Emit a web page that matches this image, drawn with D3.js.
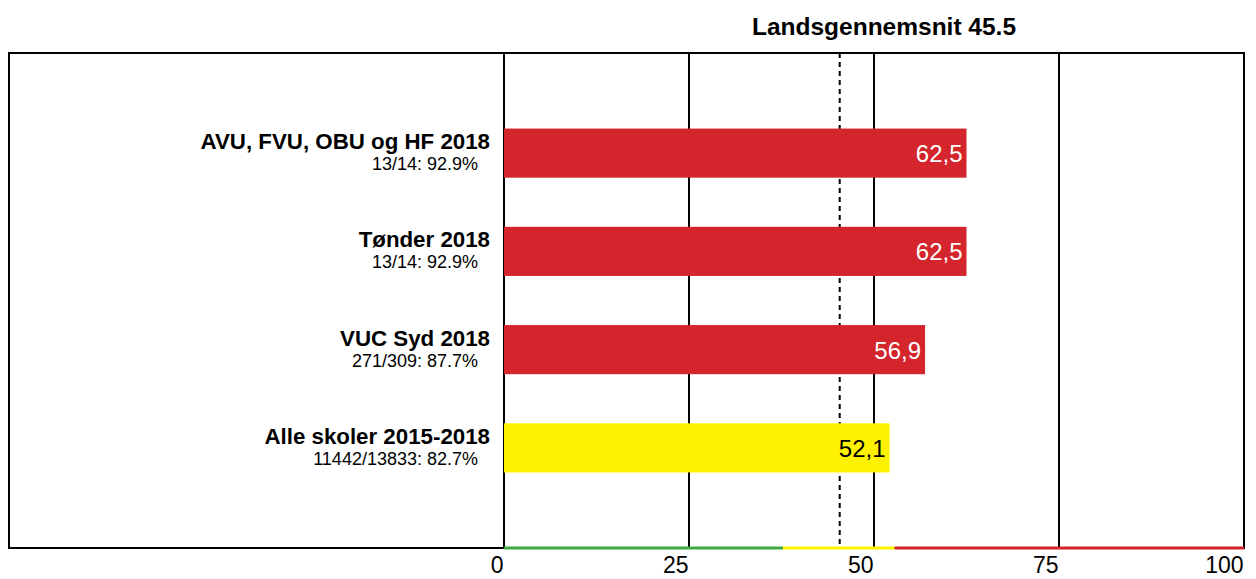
<!DOCTYPE html>
<html>
<head>
<meta charset="utf-8">
<script src="https://cdn.jsdelivr.net/npm/d3@7"></script>
<style>
  body { margin: 0; background: #fff; }
  text { font-family: "Liberation Sans", Arial, sans-serif; }
</style>
</head>
<body>
<div id="chart"></div>
<script>
// chart data
var categories = ["AVU, FVU, OBU og HF 2018", "Tønder 2018", "VUC Syd 2018", "Alle skoler 2015-2018"];
var subLabels = ["13/14: 92.9%", "13/14: 92.9%", "271/309: 87.7%", "11442/13833: 82.7%"];
var values = [62.5, 62.5, 56.9, 52.1];
var barColors = ["#d4242c", "#d4242c", "#d4242c", "#fff200"];
var labelColors = ["#fff", "#fff", "#fff", "#000"];
var xTicks = [0, 25, 50, 75, 100];
var average = 45.5;
var zoneBreaks = [0, 37.7, 52.8, 100];
var zoneColors = ["#3ea845", "#fff200", "#d4242c"];

var svgWidth = 1256;
var svgHeight = 579;

var frame = { left: 9, top: 53, right: 1244, bottom: 548 };

var svg = d3.select("#chart")
    .append("svg")
    .attr("width", svgWidth)
    .attr("height", svgHeight);

var xScale = d3.scaleLinear()
    .domain([0, 100])
    .range([504, 1244]);

var yScale = d3.scaleBand()
    .domain(categories)
    .range([104, 497])
    .paddingInner(0.5)
    .paddingOuter(0.25);

// outer frame
svg.append("rect")
    .attr("x", frame.left)
    .attr("y", frame.top)
    .attr("width", frame.right - frame.left)
    .attr("height", frame.bottom - frame.top)
    .attr("fill", "none")
    .attr("stroke", "#000")
    .attr("stroke-width", 2);

// vertical grid lines
svg.append("g")
    .selectAll("line")
    .data(xTicks)
    .enter()
    .append("line")
    .attr("x1", d => xScale(d))
    .attr("x2", d => xScale(d))
    .attr("y1", frame.top)
    .attr("y2", frame.bottom)
    .attr("stroke", "#000")
    .attr("stroke-width", 2);

// average line (dashed)
svg.append("line")
    .attr("x1", xScale(average) - 1)
    .attr("x2", xScale(average) - 1)
    .attr("y1", frame.top)
    .attr("y2", frame.bottom)
    .attr("stroke", "#000")
    .attr("stroke-width", 2)
    .attr("stroke-dasharray", "5,4");

svg.append("text")
    .attr("x", 884)
    .attr("y", 35)
    .attr("text-anchor", "middle")
    .attr("font-size", "24.5px")
    .attr("font-weight", "bold")
    .text("Landsgennemsnit " + average);

// bars
svg.append("g")
    .selectAll("rect")
    .data(categories)
    .enter()
    .append("rect")
    .attr("x", xScale(0))
    .attr("y", d => yScale(d))
    .attr("width", (d, i) => xScale(values[i]) - xScale(0))
    .attr("height", yScale.bandwidth())
    .attr("fill", (d, i) => barColors[i]);

// value labels inside bars
svg.append("g")
    .selectAll("text")
    .data(categories)
    .enter()
    .append("text")
    .attr("x", (d, i) => xScale(values[i]) - 4)
    .attr("y", d => yScale(d) + yScale.bandwidth() / 2 + 9)
    .attr("text-anchor", "end")
    .attr("font-size", "24px")
    .attr("fill", (d, i) => labelColors[i])
    .text((d, i) => String(values[i]).replace(".", ","));

// category labels
var labelGroup = svg.append("g");
labelGroup.selectAll("text.cat")
    .data(categories)
    .enter()
    .append("text")
    .attr("class", "cat")
    .attr("x", 490)
    .attr("y", d => yScale(d) + yScale.bandwidth() / 2 - 4)
    .attr("text-anchor", "end")
    .attr("font-size", "22.3px")
    .attr("font-weight", "bold")
    .text(d => d);

labelGroup.selectAll("text.sub")
    .data(categories)
    .enter()
    .append("text")
    .attr("class", "sub")
    .attr("x", 478)
    .attr("y", d => yScale(d) + yScale.bandwidth() / 2 + 17)
    .attr("text-anchor", "end")
    .attr("font-size", "18px")
    .text((d, i) => subLabels[i]);

// coloured zone strip along the axis
svg.append("g")
    .selectAll("line")
    .data(zoneColors)
    .enter()
    .append("line")
    .attr("x1", (d, i) => xScale(zoneBreaks[i]))
    .attr("x2", (d, i) => xScale(zoneBreaks[i + 1]))
    .attr("y1", frame.bottom)
    .attr("y2", frame.bottom)
    .attr("stroke", d => d)
    .attr("stroke-width", 3);

// x axis tick labels
var xAxis = d3.axisBottom(xScale)
    .tickValues(xTicks)
    .tickSize(0)
    .tickPadding(9);

var axisG = svg.append("g")
    .attr("transform", `translate(0, ${frame.bottom})`)
    .call(xAxis);

axisG.select(".domain").remove();
axisG.selectAll("text")
    .attr("font-size", "23px")
    .attr("font-family", "Liberation Sans, Arial, sans-serif")
    .attr("fill", "#000")
    .attr("text-anchor", "end")
    .attr("dx", "-1px")
    .attr("dy", "0.71em");
</script>
</body>
</html>
